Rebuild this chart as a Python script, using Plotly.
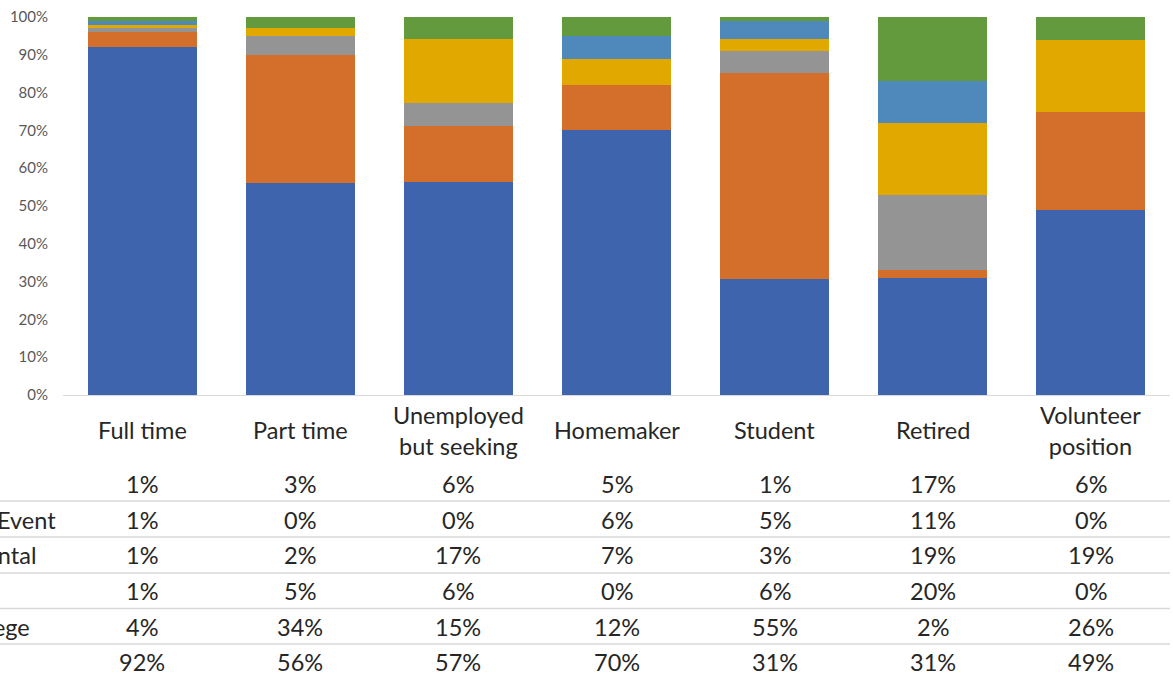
import plotly.graph_objects as go

# ---------------- data ----------------
categories = ["Full time", "Part time", "Unemployed but seeking", "Homemaker",
              "Student", "Retired", "Volunteer position"]
category_labels = ["Full time", "Part time", "Unemployed<br>but seeking", "Homemaker",
                   "Student", "Retired", "Volunteer<br>position"]

# table rows, top to bottom (stack order is bottom to top = reversed)
row_names = ["Other", "Life Event", "Mental", "Work", "College", "Job"]
other      = [1, 3, 6, 5, 1, 17, 6]
life_event = [1, 0, 0, 6, 5, 11, 0]
mental     = [1, 2, 17, 7, 3, 19, 19]
work       = [1, 5, 6, 0, 6, 20, 0]
college    = [4, 34, 15, 12, 55, 2, 26]
job        = [92, 56, 57, 70, 31, 31, 49]
rows = [other, life_event, mental, work, college, job]

colors = ["#639A3E", "#4F89BC", "#E1A800", "#949494", "#D36E2B", "#3D64AD"]

# ---------------- layout helpers (pixel -> paper) ----------------
W, H = 1173, 684
L, R, T, B = 63, 3, 17, 289
PW, PH = W - L - R, H - T - B


def px(p):
    return (p - L) / PW


def py(p):
    return (H - B - p) / PH


FONT = "Lato"
TXT = "#262626"
FS = 23.5

fig = go.Figure()
# stack bottom-up: Job first
for name, vals, col in reversed(list(zip(row_names, rows, colors))):
    fig.add_trace(go.Bar(x=categories, y=vals, name=name, marker_color=col,
                         marker_line_width=0, showlegend=False, hoverinfo="skip"))

annotations = []
# category labels
for c, lab in zip(categories, category_labels):
    annotations.append(dict(x=c, xref="x", y=py(430), yref="paper", text=lab,
                            showarrow=False, yanchor="middle", xanchor="center",
                            font=dict(family=FONT, size=FS, color=TXT)))

# data table values
row_centers = [484, 519.5, 555, 591, 627, 662]
for ri, vals in enumerate(rows):
    for c, v in zip(categories, vals):
        annotations.append(dict(x=c, xref="x", y=py(row_centers[ri]), yref="paper",
                                text=f"{v}%", showarrow=False, yanchor="middle",
                                xanchor="center",
                                font=dict(family=FONT, size=FS, color=TXT)))

# row labels (cut off at the left edge in the reference)
label_ends = {1: 58, 2: 38, 4: 32}
for ri, end in label_ends.items():
    annotations.append(dict(x=px(end), xref="paper", y=py(row_centers[ri]), yref="paper",
                            text=row_names[ri], showarrow=False, yanchor="middle",
                            xanchor="right",
                            font=dict(family=FONT, size=FS, color=TXT)))

shapes = []
for yl in [501, 537, 573, 608.5, 644]:
    shapes.append(dict(type="line", xref="paper", yref="paper", x0=px(0), x1=1,
                       y0=py(yl), y1=py(yl), line=dict(color="#D9D9D9", width=1.3)))

fig.update_layout(
    barmode="stack",
    barnorm="fraction",
    bargap=0.31,
    width=W, height=H,
    margin=dict(l=L, r=R, t=T, b=B, pad=0),
    paper_bgcolor="white",
    plot_bgcolor="white",
    annotations=annotations,
    shapes=shapes,
    font=dict(family=FONT),
    hovermode=False,
)
fig.update_xaxes(showticklabels=False, showline=True, linecolor="#D9D9D9", linewidth=1.3,
                 ticks="", showgrid=False, zeroline=False)
fig.update_yaxes(range=[0, 1], dtick=0.1, tickformat=".0%", showgrid=False, zeroline=False,
                 showline=False, ticks="", ticklabelstandoff=14,
                 tickfont=dict(family=FONT, size=15, color="#595959"))

fig.write_html("out.html",
               config={"displayModeBar": False, "staticPlot": True},
               post_script="document.body.style.margin='0';document.body.style.overflow='hidden';")
